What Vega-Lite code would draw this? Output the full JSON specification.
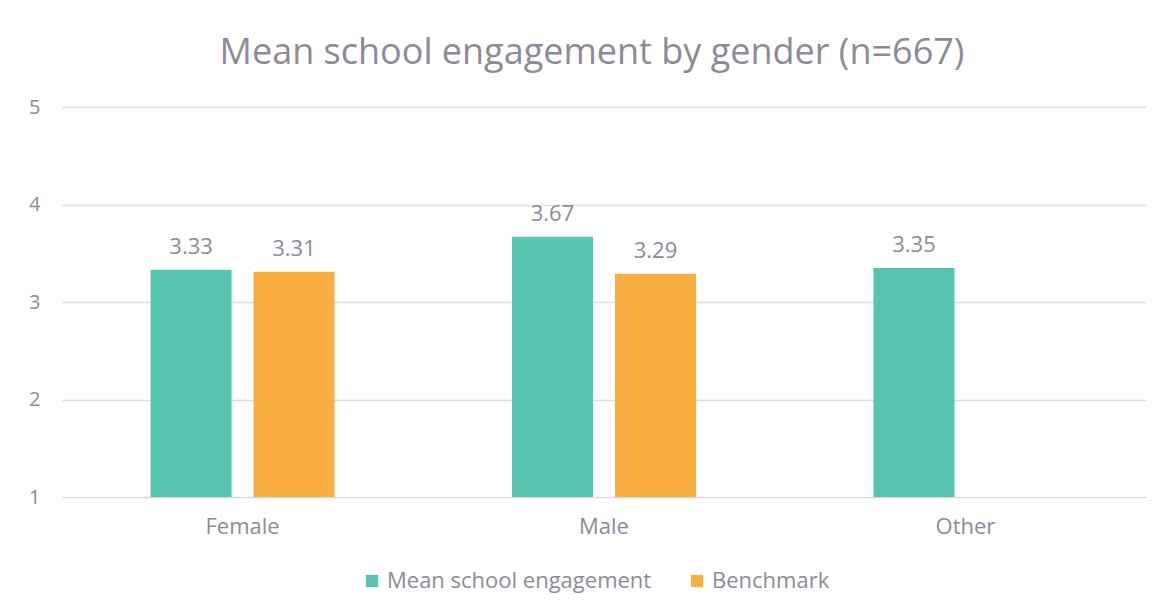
{
  "$schema": "https://vega.github.io/schema/vega-lite/v6.json",
  "width": 1084,
  "height": 390,
  "autosize": {"type": "none"},
  "padding": {"left": 62, "top": 107, "right": 23, "bottom": 116},
  "background": "white",
  "title": {
    "text": "Mean school engagement by gender (n=667)",
    "fontSize": 36,
    "font": "Open Sans",
    "fontWeight": 400,
    "color": "#8E8A98",
    "anchor": "middle",
    "baseline": "alphabetic",
    "offset": -3,
    "dx": -12
  },
  "data": {
    "values": [
      {"gender": "Female", "series": "Mean school engagement", "value": 3.33},
      {"gender": "Female", "series": "Benchmark", "value": 3.31},
      {"gender": "Male", "series": "Mean school engagement", "value": 3.67},
      {"gender": "Male", "series": "Benchmark", "value": 3.29},
      {"gender": "Other", "series": "Mean school engagement", "value": 3.35}
    ]
  },
  "encoding": {
    "x": {
      "field": "gender",
      "type": "nominal",
      "sort": ["Female", "Male", "Other"],
      "scale": {"paddingInner": 0.491, "paddingOuter": 0.245},
      "axis": {
        "title": null,
        "labelAngle": 0,
        "domain": true,
        "domainColor": "#D9D9D9",
        "ticks": false,
        "labelFontSize": 22,
        "labelColor": "#8E8A98",
        "labelFont": "Open Sans",
        "labelPadding": 19
      }
    },
    "xOffset": {
      "field": "series",
      "type": "nominal",
      "sort": ["Mean school engagement", "Benchmark"],
      "scale": {"domain": ["Mean school engagement", "Benchmark"], "paddingInner": 0.213, "paddingOuter": 0}
    },
    "y": {
      "field": "value",
      "type": "quantitative",
      "scale": {"domain": [1, 5], "zero": false, "nice": false},
      "axis": {
        "title": null,
        "values": [1, 2, 3, 4, 5],
        "domain": false,
        "ticks": false,
        "grid": true,
        "gridColor": "#DDDDDD",
        "gridWidth": 1.5,
        "labelFontSize": 20,
        "labelColor": "#8E8A98",
        "labelFont": "Open Sans",
        "labelPadding": 22
      }
    }
  },
  "layer": [
    {
      "mark": {"type": "bar"},
      "encoding": {
        "y2": {"datum": 1},
        "color": {
          "field": "series",
          "type": "nominal",
          "sort": ["Mean school engagement", "Benchmark"],
          "scale": {"domain": ["Mean school engagement", "Benchmark"], "range": ["#57C4B1", "#F9AE42"]},
          "legend": {
            "title": null,
            "orient": "none",
            "legendX": 299,
            "legendY": 463,
            "direction": "horizontal",
            "symbolType": "square",
            "symbolSize": 150,
            "symbolStrokeWidth": 0,
            "labelFontSize": 22,
            "labelLimit": 0,
            "labelColor": "#8E8A98",
            "labelFont": "Open Sans",
            "columnPadding": 34,
            "labelOffset": 4
          }
        }
      }
    },
    {
      "mark": {
        "type": "text",
        "baseline": "bottom",
        "dy": -11,
        "fontSize": 22,
        "font": "Open Sans",
        "color": "#8E8A98"
      },
      "encoding": {
        "text": {"field": "value", "type": "quantitative", "format": ".2f"}
      }
    }
  ],
  "config": {
    "view": {"stroke": null}
  }
}
